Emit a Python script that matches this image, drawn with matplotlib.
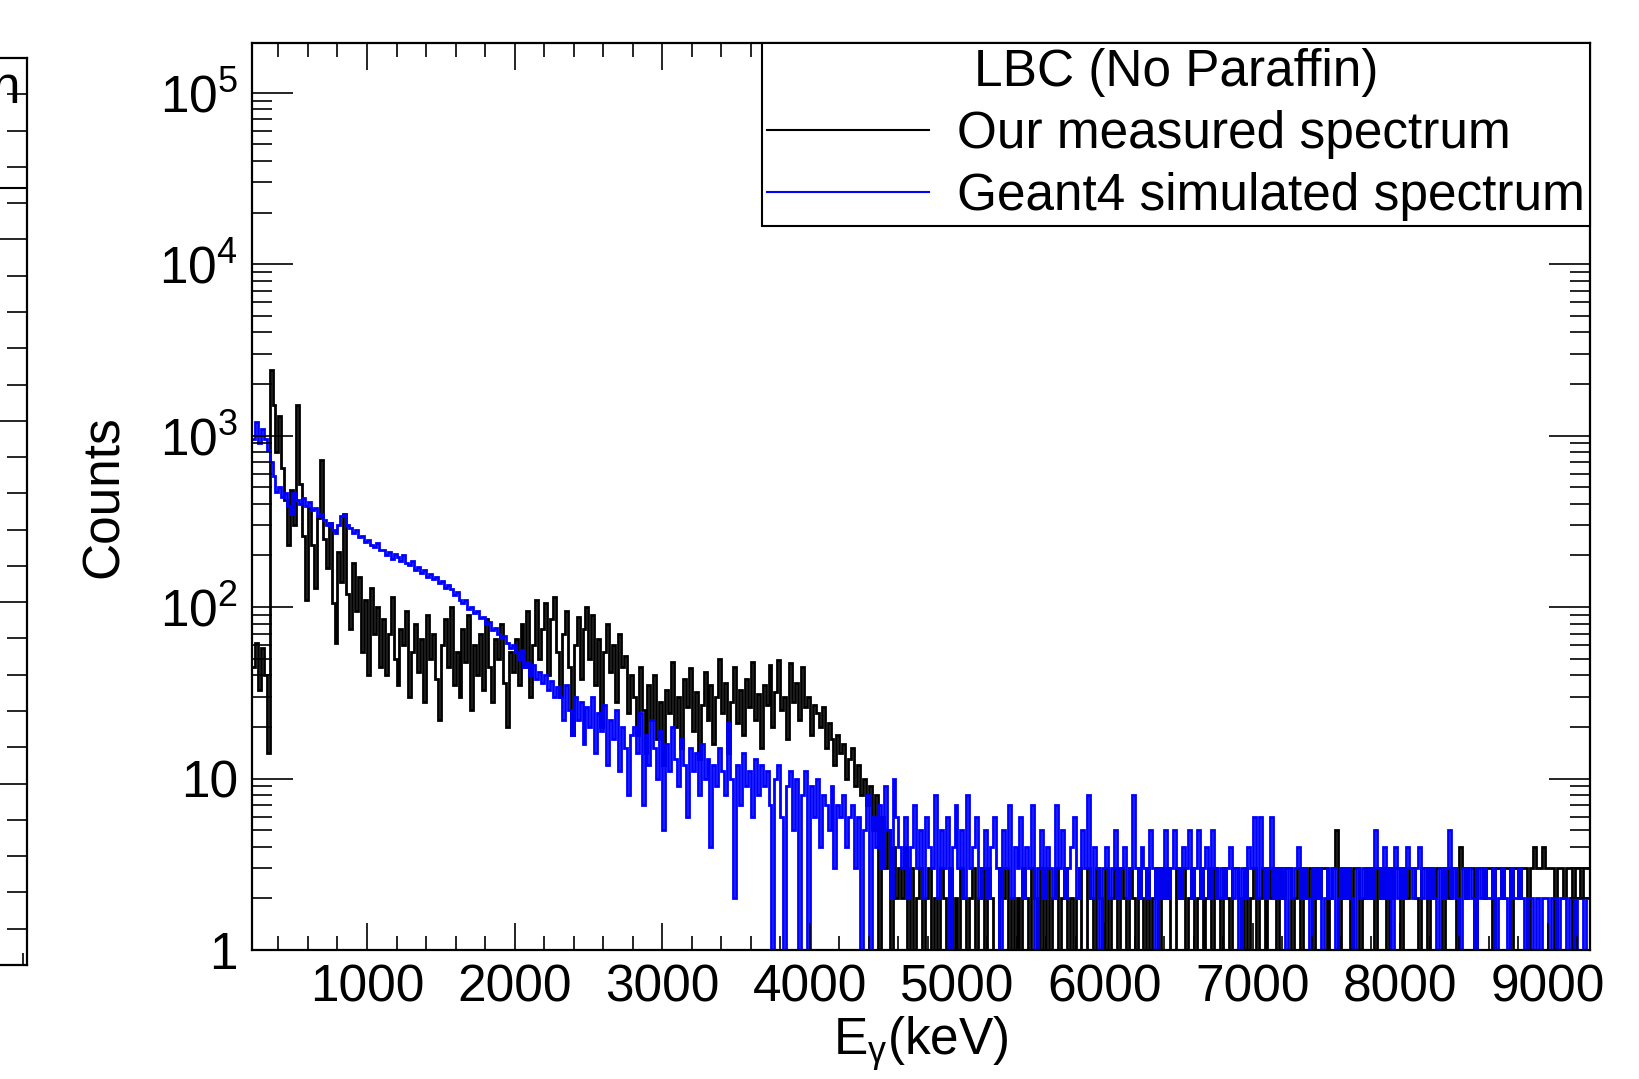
import numpy as np
import matplotlib.pyplot as plt
from matplotlib.ticker import MultipleLocator, LogLocator, FuncFormatter, NullFormatter

plt.rcParams['font.family'] = 'Liberation Sans'
plt.rcParams['mathtext.fontset'] = 'custom'
plt.rcParams['mathtext.rm'] = 'Liberation Sans'
plt.rcParams['mathtext.it'] = 'Liberation Sans:italic'

# binning of both spectra (keV)
E_MIN = 220
BIN_WIDTH = 20

# measured spectrum, counts per 20 keV bin
meas_low = [45, 62, 33, 58, 40, 14, 2400, 1500, 800, 1300,
            650, 420, 230, 480, 300, 1500, 520, 260, 110, 380,
            230, 130, 330, 720, 250, 170, 310, 105, 62, 210,
            140, 350, 120, 75, 180, 95, 150, 55, 110, 40,
            130, 70, 100, 45]
meas_mid1 = [85, 40, 70, 115, 50, 35, 75, 60, 95, 30,
             55, 80, 42, 65, 28, 90, 50, 70, 38, 22,
             60, 85, 45, 100, 35, 55, 30, 75, 48, 90,
             25, 60, 40, 70, 33, 85, 45, 28, 65, 50,
             80, 36, 20, 55, 42]
meas_mid2 = [65, 35, 80, 45, 95, 30, 60, 110, 50, 75,
             105, 40, 85, 115, 55, 30, 70, 95, 45, 18,
             60, 88, 38, 75, 100, 50, 90, 35, 65, 20,
             55, 80, 42, 60, 28, 70, 45, 52, 24, 40]
meas_mid3 = [30, 18, 45, 25, 14, 35, 22, 40, 17, 28,
             12, 33, 24, 48, 20, 30, 15, 38, 26, 44,
             19, 32, 13, 27, 42, 22, 35, 16, 30, 50,
             24, 36, 14, 28, 45, 21, 33, 18, 38, 26,
             48, 22, 31, 15, 35, 27, 46, 20, 32, 49,
             25, 30, 17, 47, 28, 36, 22, 45, 26, 30,
             18, 27, 24, 20, 26, 15, 21, 17, 12, 18,
             14, 16, 10, 13, 15, 9, 12, 8, 10, 7,
             9, 5, 8, 0, 6, 3, 5, 0, 4, 2,
             3]
meas_tail = [2, 4, 1, 3, 0, 2, 3, 1, 2,
             3, 1, 2, 0, 3, 2, 1, 3, 0, 2,
             1, 3, 2, 0, 2, 3, 1, 2, 3, 0,
             3, 2, 0, 1, 3, 2, 3, 0, 2, 1,
             2, 0, 3, 2, 1, 3, 2, 0, 3, 1,
             3, 1, 2, 3, 0, 2, 3, 1, 2, 0,
             2, 3, 1, 0, 3, 2, 1, 3, 2, 0,
             3, 1, 2, 3, 0, 3, 2, 1, 3, 2,
             0, 3, 2, 1, 3, 0, 2, 3, 1, 3,
             2, 3, 1, 0, 3, 2, 3, 1, 2, 3,
             1, 2, 3, 0, 2, 3, 1, 3, 2, 0,
             3, 2, 1, 3, 3, 2, 0, 3, 1, 2,
             3, 0, 2, 3, 1, 3, 2, 3, 0, 3,
             2, 3, 3, 1, 2, 3, 0, 3, 2, 3,
             1, 3, 2, 3, 3, 0, 2, 3, 5, 1,
             3, 2, 3, 0, 3, 3, 1, 2, 3, 2,
             3, 1, 3, 2, 3, 0, 3, 2, 3, 3,
             1, 3, 2, 3, 3, 2, 0, 3, 3, 1,
             3, 2, 3, 3, 0, 3, 2, 3, 3, 1,
             4, 3, 2, 3, 3, 1, 3, 3, 2, 3,
             3, 0, 3, 3, 2, 3, 3, 1, 3, 3,
             2, 3, 3, 0, 3, 4, 3, 3, 4, 3,
             3, 3, 1, 3, 3, 2, 3, 3, 0, 3,
             3, 2, 3, 3]

# Geant4 simulated spectrum, same binning
sim_low = [950, 1200, 900, 1100, 950, 820, 700, 580, 470, 500,
           440, 460, 390, 350, 460, 420, 400, 430, 390, 410,
           370, 380, 340, 350, 320, 300, 310, 280, 270, 300,
           340, 345, 300, 290, 270, 280, 255, 260, 240, 245,
           230, 225, 235, 215]
sim_mid1 = [215, 200, 210, 190, 205, 195, 185, 200, 180, 175,
            185, 165, 172, 158, 165, 150, 155, 145, 150, 138,
            142, 130, 135, 128, 118, 122, 110, 105, 110, 98,
            100, 92, 95, 86, 88, 80, 82, 74, 76, 70,
            66, 68, 62, 58, 60]
sim_mid2 = [55, 50, 56, 45, 48, 40, 46, 38, 42, 36,
            40, 33, 37, 30, 34, 30, 22, 35, 25, 18,
            30, 22, 28, 16, 26, 20, 30, 14, 24, 19,
            27, 12, 22, 17, 25, 11, 20, 15, 8, 18]
sim_mid3 = [20, 14, 24, 7, 18, 12, 22, 15, 10, 19,
            5, 16, 11, 20, 13, 9, 17, 12, 6, 15,
            11, 14, 8, 16, 10, 13, 4, 12, 9, 15,
            11, 8, 21, 10, 2, 12, 7, 14, 9, 11,
            6, 13, 8, 12, 9, 11, 7, 0, 10, 12,
            6, 0, 9, 11, 5, 10, 0, 8, 11, 0,
            9, 6, 10, 4, 8, 7, 5, 9, 3, 7,
            6, 8, 4, 6, 7, 3, 6, 0, 5, 8,
            0, 6, 4, 7, 3, 9, 5, 2, 10, 6,
            4]
sim_tail = [3, 6, 2, 4, 7, 3, 5, 2, 6,
            4, 3, 8, 2, 5, 3, 6, 1, 4, 7,
            3, 5, 2, 8, 3, 4, 6, 2, 3, 5,
            2, 4, 6, 3, 1, 5, 3, 7, 2, 4,
            3, 6, 2, 4, 3, 7, 1, 3, 5, 2,
            4, 3, 2, 7, 3, 5, 2, 3, 4, 6,
            2, 3, 5, 3, 8, 2, 4, 3, 1, 3,
            4, 2, 3, 5, 2, 3, 4, 2, 3, 8,
            3, 2, 4, 3, 2, 5, 3, 1, 3, 2,
            5, 2, 3, 5, 3, 2, 4, 3, 5, 2,
            3, 5, 2, 3, 4, 2, 5, 3, 2, 3,
            2, 3, 4, 2, 3, 1, 3, 2, 4, 3,
            6, 2, 6, 3, 2, 3, 6, 2, 3, 2,
            3, 1, 3, 2, 3, 4, 2, 3, 2, 1,
            3, 2, 3, 1, 2, 3, 2, 3, 1, 2,
            3, 2, 3, 2, 1, 3, 2, 3, 2, 3,
            2, 5, 3, 2, 4, 2, 3, 1, 4, 2,
            3, 2, 4, 3, 2, 3, 4, 2, 3, 2,
            3, 2, 1, 3, 2, 3, 5, 2, 3, 2,
            1, 3, 2, 3, 2, 1, 3, 2, 3, 2,
            2, 3, 1, 2, 3, 2, 1, 3, 2, 2,
            3, 2, 1, 2, 2, 1, 2, 1, 2, 2,
            1, 2, 2, 1, 2, 2, 1, 2, 2, 1,
            2, 2, 1, 2]

measured = meas_low + meas_mid1 + meas_mid2 + meas_mid3 + meas_tail
simulated = sim_low + sim_mid1 + sim_mid2 + sim_mid3 + sim_tail
assert len(measured) == len(simulated) == 453, (len(measured), len(simulated))

legend_title = 'LBC (No Paraffin)'
labels = ['Our measured spectrum', 'Geant4 simulated spectrum']

W, H = 1639, 1079
FS = 37
fig = plt.figure(figsize=(W / 100, H / 100), dpi=100)


def box(l, t, r, b):
    # pixel box -> figure fraction
    return [l / W, 1 - b / H, (r - l) / W, (b - t) / H]


# main panel
ax = fig.add_axes(box(252, 43, 1590, 950))
edges = E_MIN + BIN_WIDTH * np.arange(len(measured) + 1)
h1 = ax.stairs(measured, edges, color='black', lw=2.0, baseline=None, label=labels[0])
h2 = ax.stairs(simulated, edges, color='#0000ff', lw=2.0, baseline=None, label=labels[1])
ax.set_yscale('log', nonpositive='clip')
ax.set_xlim(221, 9285)
ax.set_ylim(1, 1.95e5)

ax.xaxis.set_major_locator(MultipleLocator(1000))
ax.xaxis.set_minor_locator(MultipleLocator(200))
ax.yaxis.set_major_locator(LogLocator(base=10, numticks=12))
ax.yaxis.set_minor_locator(LogLocator(base=10, subs=np.arange(2, 10), numticks=12))
ax.yaxis.set_minor_formatter(NullFormatter())


def decade_label(v, pos):
    if v < 100:
        return '%d' % round(v)
    return r'$\mathregular{10^{%d}}$' % round(np.log10(v))


ax.yaxis.set_major_formatter(FuncFormatter(decade_label))
ax.tick_params(which='both', direction='in', top=True, right=True, width=1.2,
               labelsize=FS, color='black')
ax.tick_params(axis='x', which='major', length=19.5, pad=10)
ax.tick_params(axis='x', which='minor', length=10)
ax.tick_params(axis='y', which='major', length=29.5, pad=10)
ax.tick_params(axis='y', which='minor', length=14.5)
for s in ax.spines.values():
    s.set_linewidth(1.6)

ax.set_xlabel(r'E$_\mathregular{γ}$(keV)', fontsize=FS, labelpad=1)
ax.set_ylabel('Counts', fontsize=FS, labelpad=22)

leg = ax.legend(handles=[h1, h2], title=legend_title, loc='upper right',
                bbox_to_anchor=(1, 1), borderaxespad=0, fontsize=FS,
                title_fontsize=FS, fancybox=False, edgecolor='black',
                framealpha=1, handlelength=3.15, handletextpad=0.55,
                borderpad=0.1, labelspacing=0.25)
leg.get_frame().set_linewidth(1.5)
for ln in leg.get_lines():
    ln.set_linewidth(1.5)

# edge of the neighbouring panel, cut by the page
axl = fig.add_axes(box(-900, 58, 26.7, 965))
axl.set_xlim(0, 1)
axl.set_ylim(0, 5)
axl.yaxis.set_major_locator(MultipleLocator(1))
axl.yaxis.set_minor_locator(MultipleLocator(0.2))
axl.set_xticks([])
axl.set_xticks([1 - 4 / 926.7], minor=True)
axl.tick_params(which='both', direction='in', left=False, right=True,
                labelleft=False, labelbottom=False, width=1.2)
axl.tick_params(axis='y', which='major', length=29.5)
axl.tick_params(axis='y', which='minor', length=14.5)
axl.tick_params(axis='x', which='minor', bottom=True, length=9)
for s in axl.spines.values():
    s.set_linewidth(1.6)
axl.plot([0, 1], [(965 - 188) / 907] * 2, transform=axl.transAxes,
         color='black', lw=1.5)
fig.text(20 / W, 1 - 103 / H, 'n', ha='right', va='baseline', fontsize=FS)

fig.savefig('out.png', dpi=100)
